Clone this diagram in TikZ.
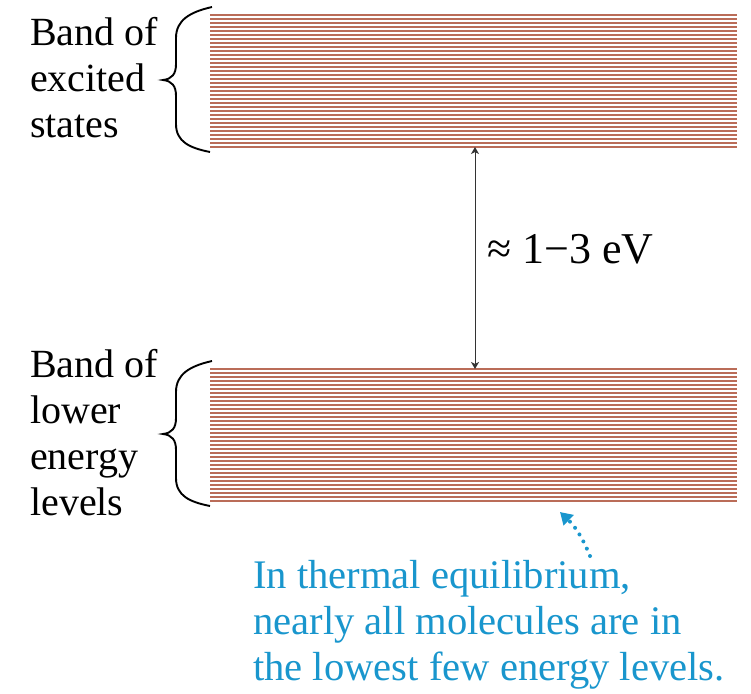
\documentclass[tikz,border=0pt]{standalone}
\usepackage{fontspec}
\setmainfont{Liberation Serif}
\usetikzlibrary{arrows.meta}
\definecolor{bandred}{RGB}{186,108,88}
\definecolor{noteblue}{RGB}{25,150,205}
\begin{document}
\begin{tikzpicture}[x=1pt, y=-1pt,
		bandline/.style={draw=bandred, line width=1.4},
		bandlabel/.style={anchor=base west, align=left, inner sep=0pt, font=\fontsize{40}{45.7}\selectfont},
		gap/.style={draw=black!80, line width=0.9, {Stealth[length=7,width=8,inset=2]}-{Stealth[length=7,width=8,inset=2]}},
		hint/.style={draw=noteblue, line width=4, dash pattern=on 0pt off 8pt, line cap=round, -{Triangle[length=12,width=14]}}]
		\useasboundingbox (0,0) rectangle (751,693);
		% the two bands
		\foreach \i in {0, ..., 33}
		{\draw[bandline] (210,15+4*\i) -- (737,15+4*\i);
		 \draw[bandline] (210,369+4*\i) -- (737,369+4*\i);}
		% braces
		\foreach \off in {0, 354}
		{\draw[line width=1.9] (212,7+\off) .. controls (190,12+\off) and (176,20+\off) .. (176,38+\off)
			-- (176,64+\off) .. controls (176,74+\off) and (172,79+\off) .. (163,80+\off)
			.. controls (172,81+\off) and (176,86+\off) .. (176,96+\off)
			-- (176,124+\off) .. controls (176,142+\off) and (190,148+\off) .. (210,152+\off);}
		% base anchor = baseline of the last line
		\node[bandlabel] (excited) at (30,137) {Band of\\excited\\states};
		\node[bandlabel] (lower) at (30,515) {Band of\\lower\\energy\\levels};
		% gap between the bands
		\coordinate (excited edge) at (475,147);
		\coordinate (lower edge) at (475,369);
		\draw[gap] (excited edge) -- (lower edge);
		\node[anchor=base west, inner sep=0pt, font=\fontsize{44}{50}\selectfont] (gapsize) at (487,263) {≈ 1−3 eV};
		% note on the lower band
		\node[bandlabel, text=noteblue, font=\fontsize{40.6}{45.7}\selectfont] (note) at (253,680) {In thermal equilibrium,\\nearly all molecules are in\\the lowest few energy levels.};
		\coordinate (hint start) at (590,556);
		\coordinate (hint end) at (560,512);
		\draw[hint] (hint start) to[bend right=12] (hint end);
	\end{tikzpicture}
\end{document}
